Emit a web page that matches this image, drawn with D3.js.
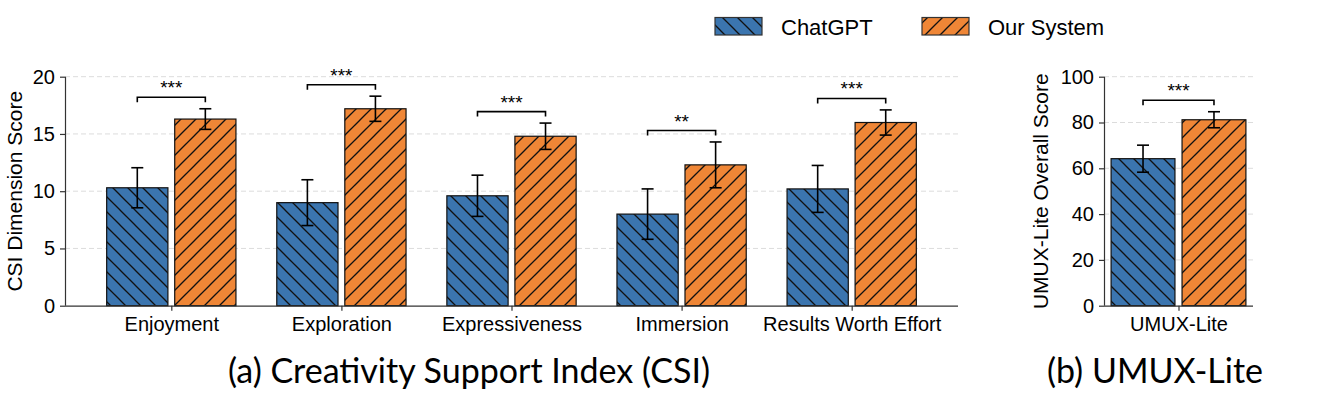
<!DOCTYPE html>
<html>
<head>
<meta charset="utf-8">
<script src="https://cdn.jsdelivr.net/npm/d3@7"></script>
<style>
  body { margin: 0; background: #fff; }
  text { font-family: "Liberation Sans", Arial, sans-serif; fill: #000; }
  .caption { font-family: Lato, "Open Sans", sans-serif; }
</style>
</head>
<body>
<svg id="chart" width="1336" height="412"></svg>
<script>
// --- data ---
const categories = ["Enjoyment", "Exploration", "Expressiveness", "Immersion", "Results Worth Effort"];
const chatgptMean = [10.3, 9.0, 9.6, 8.0, 10.2];
const chatgptErr  = [1.75, 2.0, 1.8, 2.2, 2.05];
const oursMean    = [16.3, 17.2, 14.8, 12.3, 16.0];
const oursErr     = [0.9, 1.1, 1.15, 2.0, 1.1];
const csiSig      = ["***", "***", "***", "**", "***"];
const csiTicks    = [0, 5, 10, 15, 20];

const umuxCategories = ["UMUX-Lite"];
const umuxChatgptMean = [64.2];
const umuxChatgptErr  = [5.9];
const umuxOursMean    = [81.2];
const umuxOursErr     = [3.5];
const umuxSig         = ["***"];
const umuxTicks       = [0, 20, 40, 60, 80, 100];

const seriesNames = ["ChatGPT", "Our System"];
const colors = ["#3b75af", "#ef8636"];
const hatches = ["back", "fwd"];

const svg = d3.select("#chart");

// hatch patterns
const defs = svg.append("defs");
const hs = 15;
function addHatch(id, color, dir) {
  let p = defs.append("pattern")
    .attr("id", id)
    .attr("patternUnits", "userSpaceOnUse")
    .attr("width", hs).attr("height", hs);
  p.append("rect").attr("width", hs).attr("height", hs).attr("fill", color);
  let segs = dir === "fwd"
    ? [[0, hs, hs, 0], [-2, 2, 2, -2], [hs - 2, hs + 2, hs + 2, hs - 2]]
    : [[0, 0, hs, hs], [hs - 2, -2, hs + 2, 2], [-2, hs - 2, 2, hs + 2]];
  segs.forEach(s => {
    p.append("line")
      .attr("x1", s[0]).attr("y1", s[1]).attr("x2", s[2]).attr("y2", s[3])
      .attr("stroke", "#111").attr("stroke-width", 1.3);
  });
}
addHatch("hatch0", colors[0], hatches[0]);
addHatch("hatch1", colors[1], hatches[1]);

const yTop = 76.7, yBot = 305.7;
const barW = 0.36, off = 0.2;

function drawPanel(opt) {
  let x = d3.scaleLinear().domain(opt.xDomain).range(opt.xRange);
  let y = d3.scaleLinear().domain([0, opt.yMax]).range([yBot, yTop]);
  let g = svg.append("g");

  // grid
  g.selectAll(".grid").data(opt.ticks.filter(t => t > 0)).enter()
    .append("line")
    .attr("x1", opt.xRange[0]).attr("x2", opt.xRange[1])
    .attr("y1", d => y(d)).attr("y2", d => y(d))
    .attr("stroke", "#dcdcdc").attr("stroke-width", 1)
    .attr("stroke-dasharray", "5,3");

  // bars
  let rows = [];
  opt.cats.forEach((c, i) => {
    rows.push({ i: i, s: 0, m: opt.m0[i], e: opt.e0[i] });
    rows.push({ i: i, s: 1, m: opt.m1[i], e: opt.e1[i] });
  });
  g.selectAll(".bar").data(rows).enter()
    .append("rect")
    .attr("x", d => x(d.i + (d.s ? off : -off) - barW / 2))
    .attr("width", d => x(barW) - x(0))
    .attr("y", d => y(d.m))
    .attr("height", d => y(0) - y(d.m))
    .attr("fill", d => "url(#hatch" + d.s + ")")
    .attr("stroke", "#111").attr("stroke-width", 1.2);

  // error bars
  let cap = 6;
  let eb = g.selectAll(".err").data(rows).enter().append("g")
    .attr("stroke", "#000").attr("stroke-width", 1.6);
  eb.append("line")
    .attr("x1", d => x(d.i + (d.s ? off : -off))).attr("x2", d => x(d.i + (d.s ? off : -off)))
    .attr("y1", d => y(d.m - d.e)).attr("y2", d => y(d.m + d.e));
  eb.append("line")
    .attr("x1", d => x(d.i + (d.s ? off : -off)) - cap).attr("x2", d => x(d.i + (d.s ? off : -off)) + cap)
    .attr("y1", d => y(d.m + d.e)).attr("y2", d => y(d.m + d.e));
  eb.append("line")
    .attr("x1", d => x(d.i + (d.s ? off : -off)) - cap).attr("x2", d => x(d.i + (d.s ? off : -off)) + cap)
    .attr("y1", d => y(d.m - d.e)).attr("y2", d => y(d.m - d.e));

  // significance brackets
  opt.cats.forEach((c, i) => {
    let top = Math.max(opt.m0[i] + opt.e0[i], opt.m1[i] + opt.e1[i]) + opt.yMax * 0.05;
    let by = y(top);
    let x0 = x(i - off), x1 = x(i + off);
    g.append("path")
      .attr("d", `M${x0},${by + 5}V${by}H${x1}V${by + 5}`)
      .attr("fill", "none").attr("stroke", "#000").attr("stroke-width", 1.6);
    g.append("text")
      .attr("x", (x0 + x1) / 2).attr("y", by - 3)
      .attr("text-anchor", "middle").style("font-size", "19px")
      .text(opt.sig[i]);
  });

  // axes
  let xAxis = d3.axisBottom(x).tickValues(d3.range(opt.cats.length))
    .tickFormat(i => opt.cats[i]).tickSize(5).tickPadding(6);
  let ax = g.append("g").attr("transform", `translate(0,${yBot})`).call(xAxis);
  let yAxis = d3.axisLeft(y).tickValues(opt.ticks).tickSize(5).tickPadding(5);
  let ay = g.append("g").attr("transform", `translate(${opt.xRange[0]},0)`).call(yAxis);
  [ax, ay].forEach(a => {
    a.select(".domain").attr("stroke", "#333").attr("stroke-width", 1.2);
    a.selectAll(".tick line").attr("stroke", "#333").attr("stroke-width", 1.2);
    a.selectAll(".tick text").style("font-size", "20px")
      .style("font-family", '"Liberation Sans", Arial, sans-serif').attr("fill", "#000");
  });
  ax.select(".domain").attr("d", `M${opt.xRange[0]},0.5H${opt.xRange[1]}`);
  ay.select(".domain").attr("d", `M0.5,${yBot}V${yTop}`);

  g.append("text")
    .attr("transform", `translate(${opt.labelX},${(yTop + yBot) / 2}) rotate(-90)`)
    .attr("text-anchor", "middle").style("font-size", "21px")
    .text(opt.yLabel);

  g.append("text").attr("class", "caption")
    .attr("x", opt.capX).attr("y", 383)
    .attr("text-anchor", "middle").style("font-size", opt.capSize + "px")
    .text(opt.caption);
}

drawPanel({
  cats: categories, m0: chatgptMean, e0: chatgptErr, m1: oursMean, e1: oursErr,
  sig: csiSig, ticks: csiTicks, yMax: 20,
  xDomain: [-0.625, categories.length - 0.375], xRange: [65, 958],
  yLabel: "CSI Dimension Score", labelX: 22,
  caption: "(a) Creativity Support Index (CSI)", capX: 469, capSize: 34
});

drawPanel({
  cats: umuxCategories, m0: umuxChatgptMean, e0: umuxChatgptErr, m1: umuxOursMean, e1: umuxOursErr,
  sig: umuxSig, ticks: umuxTicks, yMax: 100,
  xDomain: [-0.42, 0.42], xRange: [1104, 1253],
  yLabel: "UMUX-Lite Overall Score", labelX: 1048,
  caption: "(b) UMUX-Lite", capX: 1155, capSize: 34
});

// legend
const legend = svg.append("g");
const legX = [715, 922];
seriesNames.forEach((name, i) => {
  legend.append("rect")
    .attr("x", legX[i]).attr("y", 17.5).attr("width", 47).attr("height", 17.5)
    .attr("fill", "url(#hatch" + i + ")").attr("stroke", "#333").attr("stroke-width", 1.2);
  legend.append("text")
    .attr("x", legX[i] + 66).attr("y", 34.5)
    .style("font-size", "22px")
    .text(name);
});
</script>
</body>
</html>
